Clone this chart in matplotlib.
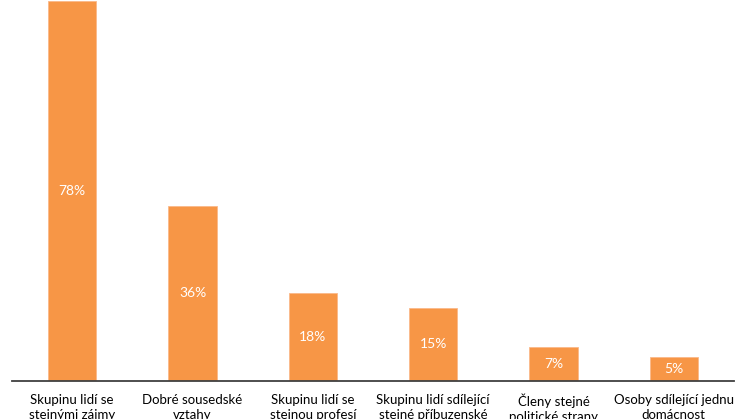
import matplotlib
matplotlib.use("Agg")
import matplotlib.pyplot as plt

categories = ["Skupinu lidí se\nstejnými zájmy",
              "Dobré sousedské\nvztahy",
              "Skupinu lidí se\nstejnou profesí",
              "Skupinu lidí sdílející\nstejné příbuzenské\nvztahy",
              "Členy stejné\npolitické strany",
              "Osoby sdílející jednu\ndomácnost"]
values = [78, 36, 18, 15, 7, 5]
labels = ["78%", "36%", "18%", "15%", "7%", "5%"]

plt.rcParams['font.family'] = ['Lato', 'DejaVu Sans']
fig = plt.figure(figsize=(7.46, 4.19), dpi=100)
ax = fig.add_axes([12/746, 38/419, 722/746, 381/419])
x = range(len(values))
bars = ax.bar(x, values, width=0.4, color="#F79646", edgecolor="#FAB98A", linewidth=0.6)
for b, lab in zip(bars, labels):
    ax.text(b.get_x() + b.get_width()/2, b.get_height()/2, lab,
            ha="center", va="center", color="white", fontsize=10)
ax.set_xlim(-0.5, len(values) - 0.5)
ax.set_ylim(0, 78.2)
ax.set_xticks(list(x))
ax.set_xticklabels(categories, fontsize=9.5, color="#000000", linespacing=1.3, va="top")
ax.tick_params(axis="x", length=0, pad=9)
ax.set_yticks([])
for s in ["top", "right", "left"]:
    ax.spines[s].set_visible(False)
ax.spines["bottom"].set_color("#404040")
ax.spines["bottom"].set_linewidth(1.3)
fig.savefig("out.png", dpi=100)
